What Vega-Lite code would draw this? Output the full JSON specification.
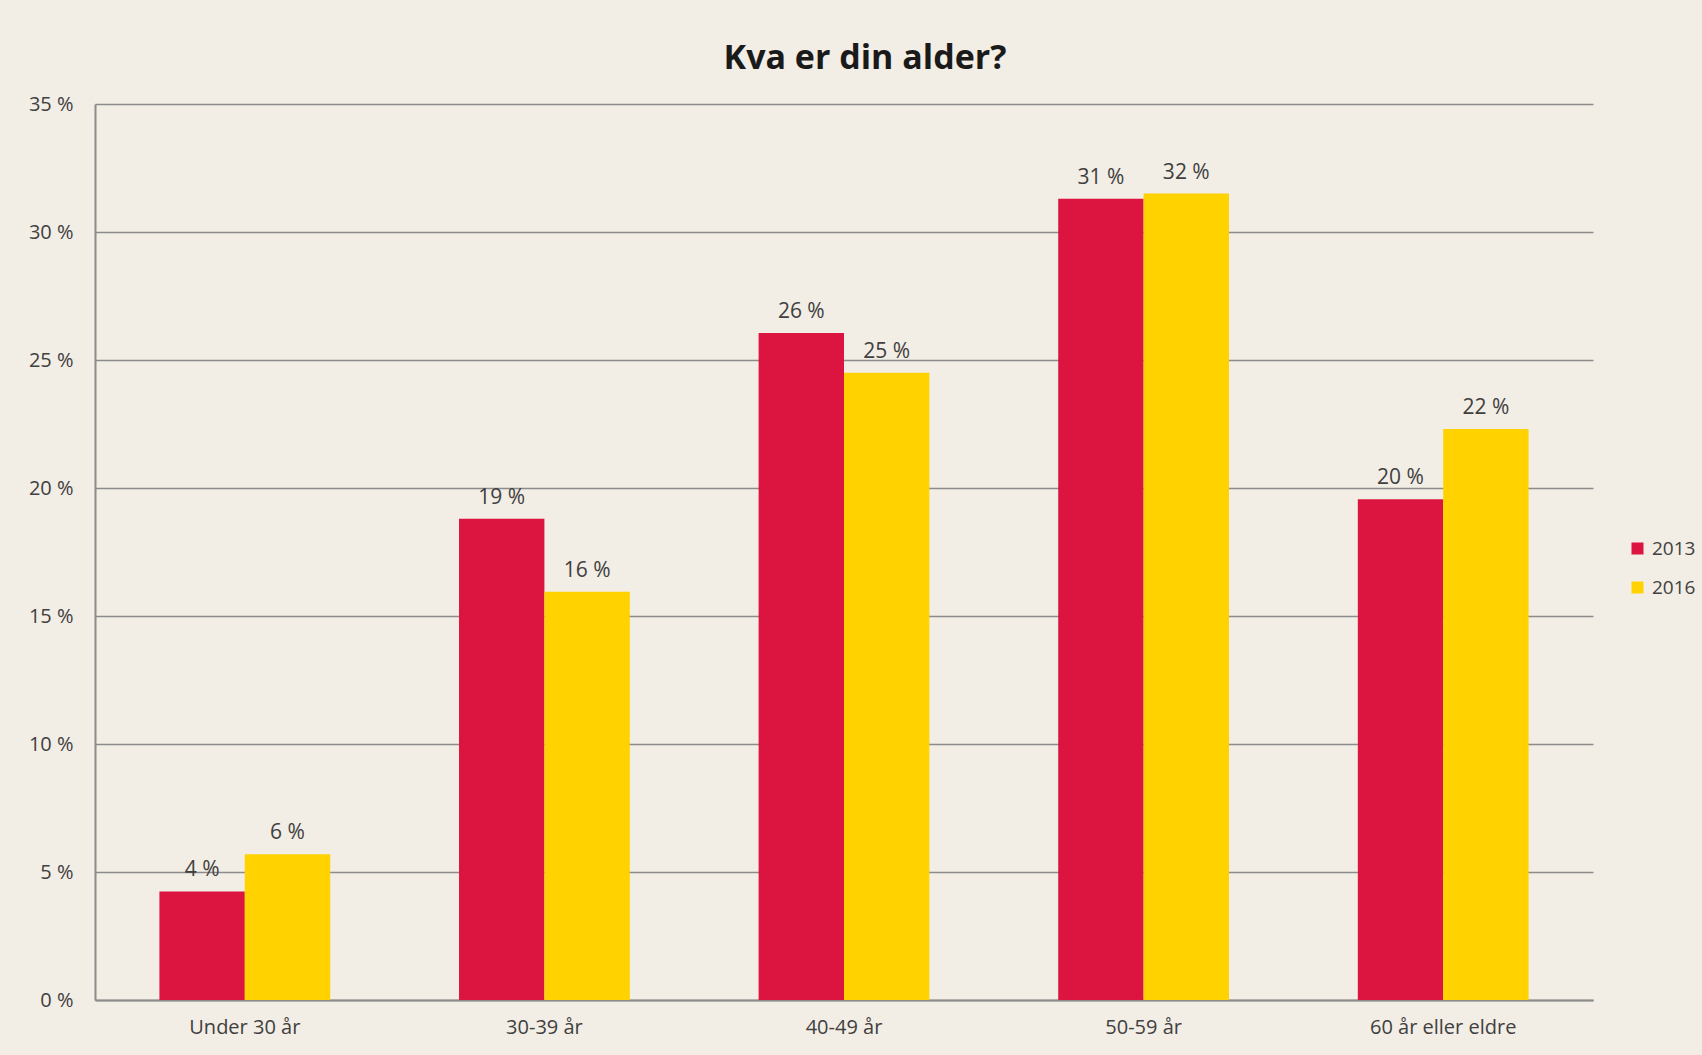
{
  "$schema": "https://vega.github.io/schema/vega-lite/v6.json",
  "width": 1498,
  "height": 896,
  "autosize": "none",
  "padding": {"left": 95, "top": 104, "right": 109, "bottom": 55},
  "background": "#F2EDE5",
  "title": {
    "text": "Kva er din alder?",
    "font": "Open Sans",
    "fontSize": 34,
    "fontWeight": "bold",
    "color": "#1a1a1a",
    "anchor": "middle",
    "dx": 21,
    "offset": 18
  },
  "config": {
    "view": {"stroke": null},
    "font": "Open Sans"
  },
  "data": {
    "values": [
      {"alder": "Under 30 år", "år": "2013", "prosent": 4.24, "etikett": "4 %"},
      {"alder": "Under 30 år", "år": "2016", "prosent": 5.69, "etikett": "6 %"},
      {"alder": "30-39 år", "år": "2013", "prosent": 18.8, "etikett": "19 %"},
      {"alder": "30-39 år", "år": "2016", "prosent": 15.95, "etikett": "16 %"},
      {"alder": "40-49 år", "år": "2013", "prosent": 26.05, "etikett": "26 %"},
      {"alder": "40-49 år", "år": "2016", "prosent": 24.5, "etikett": "25 %"},
      {"alder": "50-59 år", "år": "2013", "prosent": 31.3, "etikett": "31 %"},
      {"alder": "50-59 år", "år": "2016", "prosent": 31.5, "etikett": "32 %"},
      {"alder": "60 år eller eldre", "år": "2013", "prosent": 19.56, "etikett": "20 %"},
      {"alder": "60 år eller eldre", "år": "2016", "prosent": 22.3, "etikett": "22 %"}
    ]
  },
  "encoding": {
    "x": {
      "field": "alder",
      "type": "nominal",
      "sort": null,
      "scale": {"paddingInner": 0.43, "paddingOuter": 0.215},
      "axis": {
        "title": null,
        "labelAngle": 0,
        "labelFont": "Open Sans",
        "labelFontSize": 20,
        "labelColor": "#404040",
        "labelPadding": 17,
        "ticks": false,
        "domainColor": "#8c8c8c",
        "domainWidth": 2
      }
    },
    "xOffset": {"field": "år", "type": "nominal", "sort": ["2013", "2016"]},
    "y": {
      "field": "prosent",
      "type": "quantitative",
      "scale": {"domain": [0, 35], "nice": false},
      "axis": {
        "title": null,
        "values": [0, 5, 10, 15, 20, 25, 30, 35],
        "labelExpr": "datum.value + ' %'",
        "labelFont": "Open Sans",
        "labelFontSize": 20,
        "labelColor": "#404040",
        "labelPadding": 22,
        "ticks": false,
        "grid": true,
        "gridColor": "#8c8c8c",
        "gridWidth": 1.5,
        "domainColor": "#8c8c8c",
        "domainWidth": 2
      }
    }
  },
  "layer": [
    {
      "mark": {"type": "bar"},
      "encoding": {
        "color": {
          "field": "år",
          "type": "nominal",
          "scale": {"domain": ["2013", "2016"], "range": ["#DC1540", "#FFD200"]},
          "legend": {
            "title": null,
            "orient": "none",
            "legendX": 1533,
            "legendY": 435,
            "symbolType": "square",
            "symbolSize": 144,
            "symbolStrokeWidth": 0,
            "labelFont": "Open Sans",
            "labelFontSize": 19,
            "labelColor": "#404040",
            "labelOffset": 5,
            "labelLimit": 80,
            "rowPadding": 19
          }
        }
      }
    },
    {
      "mark": {"type": "text", "baseline": "bottom", "dy": -11, "fontSize": 21, "color": "#404040", "font": "Open Sans"},
      "encoding": {
        "text": {"field": "etikett", "type": "nominal"}
      }
    }
  ]
}
